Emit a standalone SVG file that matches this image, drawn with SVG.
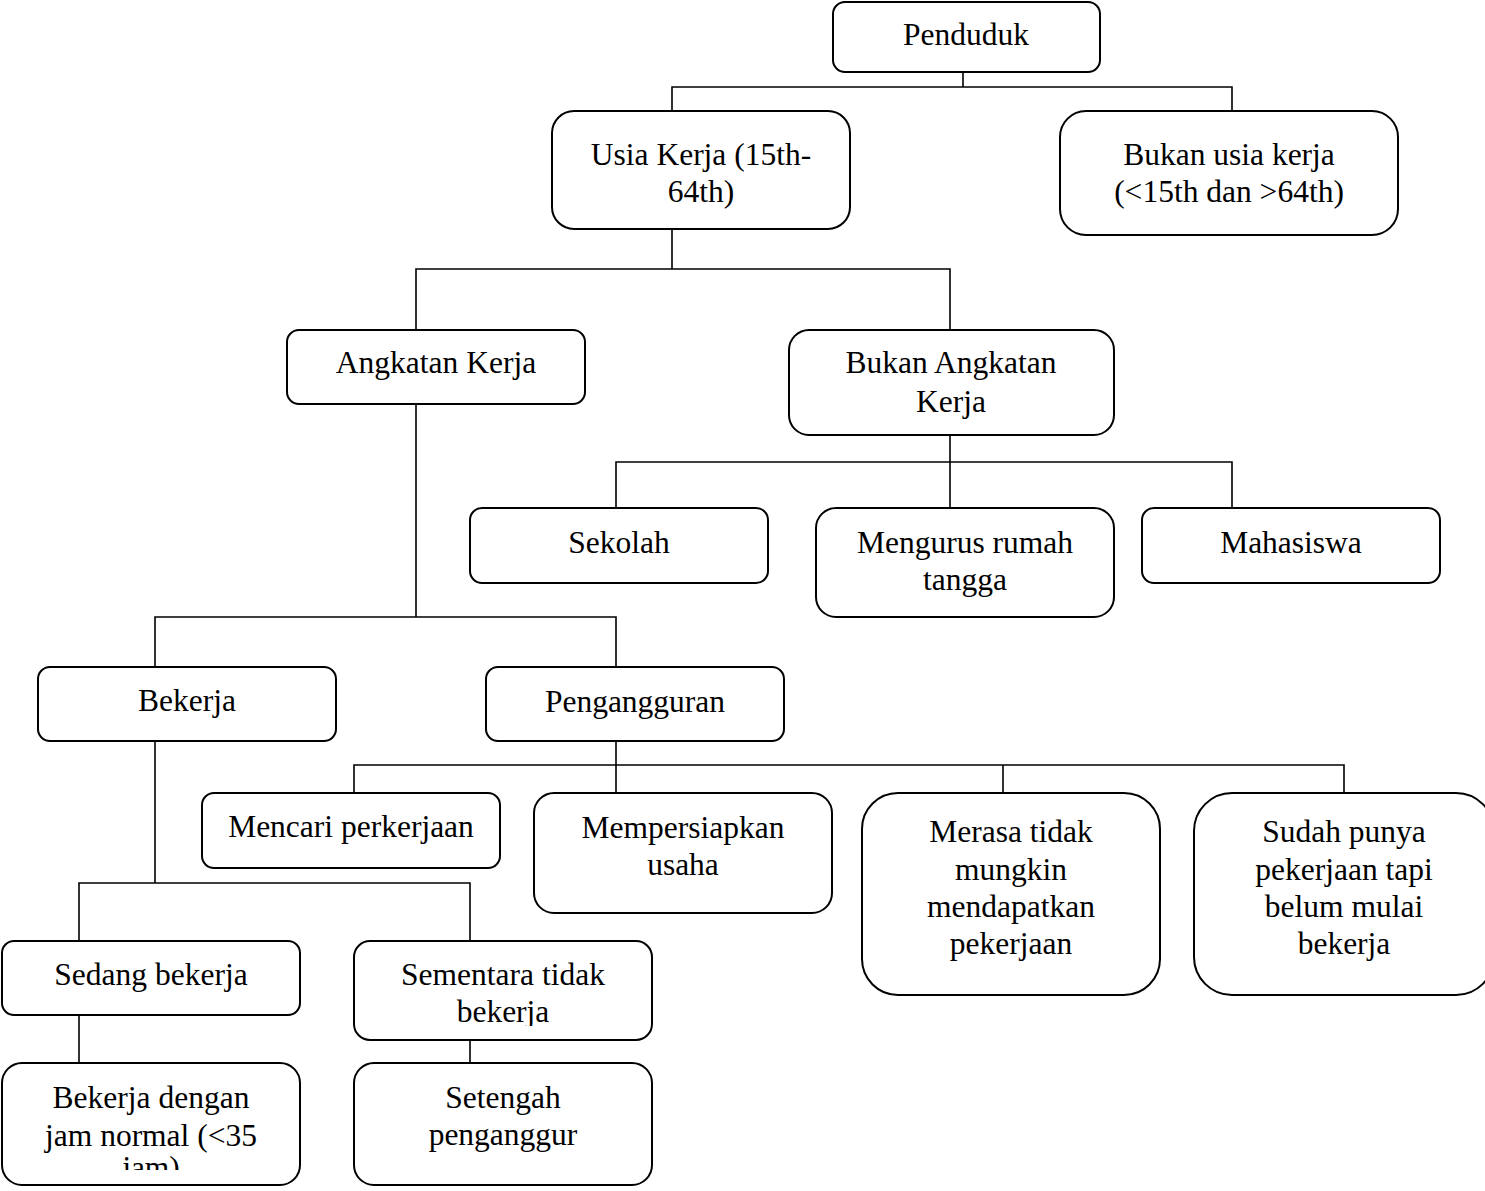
<svg xmlns="http://www.w3.org/2000/svg" width="1485" height="1191" viewBox="0 0 1485 1191">
<style>
.box{fill:#fff;stroke:#000;stroke-width:2}
.lbl{font-family:"Liberation Serif","Times New Roman",serif;font-size:31.5px;fill:#000;text-anchor:middle}
.con{fill:none;stroke:#000;stroke-width:1.6}
</style>
<defs>
<clipPath id="clipBD"><rect x="0" y="1063" width="302" height="107"/></clipPath>
<clipPath id="clipST"><rect x="352" y="941" width="302" height="85"/></clipPath>
</defs>
<rect width="1485" height="1191" fill="#fff"/>
<g id="connectors">
<path class="con" d="M963 72V87M672 112V87H1232V112"/>
<path class="con" d="M672 230V269M416 330V269H950V330"/>
<path class="con" d="M950 435V462M616 508V462H1232V508M950 462V508"/>
<path class="con" d="M416 404V617M155 667V617H616V667"/>
<path class="con" d="M616 741V765M354 793V765H1344V793M616 765V793M1003 765V793"/>
<path class="con" d="M155 741V883M79 941V883H470V941"/>
<path class="con" d="M79 1015V1063M470 1040V1063"/>
</g>
<g id="penduduk"><rect class="box" x="833" y="2" width="267" height="70" rx="12"/><text class="lbl" x="966" y="45">Penduduk</text></g>
<g id="usia-kerja"><rect class="box" x="552" y="111" width="298" height="118" rx="22"/><text class="lbl" x="701" y="165">Usia Kerja (15th-</text><text class="lbl" x="701" y="202">64th)</text></g>
<g id="bukan-usia-kerja"><rect class="box" x="1060" y="111" width="338" height="124" rx="26"/><text class="lbl" x="1229" y="165">Bukan usia kerja</text><text class="lbl" x="1229" y="202">(&lt;15th dan &gt;64th)</text></g>
<g id="angkatan-kerja"><rect class="box" x="287" y="330" width="298" height="74" rx="12"/><text class="lbl" x="436" y="373">Angkatan Kerja</text></g>
<g id="bukan-angkatan-kerja"><rect class="box" x="789" y="330" width="325" height="105" rx="20"/><text class="lbl" x="951" y="373">Bukan Angkatan</text><text class="lbl" x="951" y="412">Kerja</text></g>
<g id="sekolah"><rect class="box" x="470" y="508" width="298" height="75" rx="12"/><text class="lbl" x="619" y="553">Sekolah</text></g>
<g id="mengurus"><rect class="box" x="816" y="508" width="298" height="109" rx="20"/><text class="lbl" x="965" y="553">Mengurus rumah</text><text class="lbl" x="965" y="590">tangga</text></g>
<g id="mahasiswa"><rect class="box" x="1142" y="508" width="298" height="75" rx="12"/><text class="lbl" x="1291" y="553">Mahasiswa</text></g>
<g id="bekerja"><rect class="box" x="38" y="667" width="298" height="74" rx="12"/><text class="lbl" x="187" y="711">Bekerja</text></g>
<g id="pengangguran"><rect class="box" x="486" y="667" width="298" height="74" rx="12"/><text class="lbl" x="635" y="712">Pengangguran</text></g>
<g id="mencari"><rect class="box" x="202" y="793" width="298" height="75" rx="12"/><text class="lbl" x="351" y="837">Mencari perkerjaan</text></g>
<g id="mempersiapkan"><rect class="box" x="534" y="793" width="298" height="120" rx="20"/><text class="lbl" x="683" y="838">Mempersiapkan</text><text class="lbl" x="683" y="875">usaha</text></g>
<g id="merasa"><rect class="box" x="862" y="793" width="298" height="202" rx="36"/><text class="lbl" x="1011" y="842">Merasa tidak</text><text class="lbl" x="1011" y="880">mungkin</text><text class="lbl" x="1011" y="917">mendapatkan</text><text class="lbl" x="1011" y="954">pekerjaan</text></g>
<g id="sudah"><rect class="box" x="1194" y="793" width="300" height="202" rx="38"/><text class="lbl" x="1344" y="842">Sudah punya</text><text class="lbl" x="1344" y="880">pekerjaan tapi</text><text class="lbl" x="1344" y="917">belum mulai</text><text class="lbl" x="1344" y="954">bekerja</text></g>
<g id="sedang-bekerja"><rect class="box" x="2" y="941" width="298" height="74" rx="12"/><text class="lbl" x="151" y="985">Sedang bekerja</text></g>
<g id="sementara"><rect class="box" x="354" y="941" width="298" height="99" rx="16"/><g clip-path="url(#clipST)"><text class="lbl" x="503" y="985">Sementara tidak</text><text class="lbl" x="503" y="1022">bekerja</text></g></g>
<g id="bekerja-dengan"><rect class="box" x="2" y="1063" width="298" height="122" rx="20"/><g clip-path="url(#clipBD)"><text class="lbl" x="151" y="1108">Bekerja dengan</text><text class="lbl" x="151" y="1146">jam normal (&lt;35</text><text class="lbl" x="151" y="1178">jam)</text></g></g>
<g id="setengah"><rect class="box" x="354" y="1063" width="298" height="122" rx="20"/><text class="lbl" x="503" y="1108">Setengah</text><text class="lbl" x="503" y="1145">penganggur</text></g>
</svg>
